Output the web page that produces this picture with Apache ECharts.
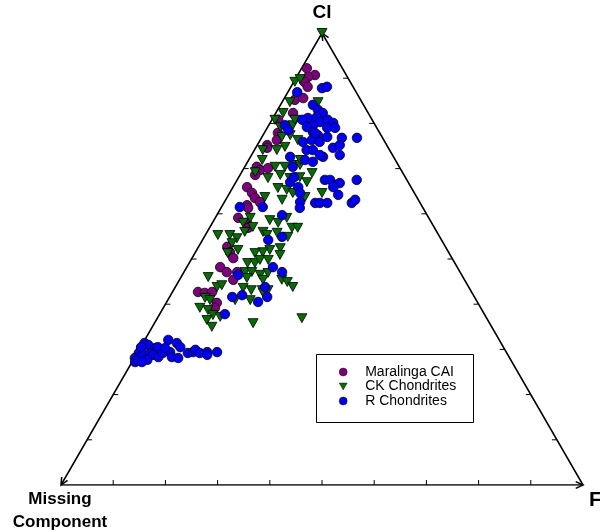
<!DOCTYPE html>
<html>
<head>
<meta charset="utf-8">
<script src="https://cdn.jsdelivr.net/npm/echarts@6/dist/echarts.min.js"></script>
<style>html,body{margin:0;padding:0;background:#fff}#c{width:600px;height:531px}</style>
</head>
<body>
<div id="c"></div>
<script>
// Ternary compositions in percent: Cl (top vertex), F (right vertex); Missing Component = 100 - Cl - F
const maralingaCl = [92.2,90.7,90.3,89.2,88.1,86.3,85.2,85.6,82.3,80.8,77.9,76.3,75.2,74.6,70.4,69.7,68.6,70.1,65.9,64.6,63.5,62.6,61.9,61.3,59.1,58.0,56.9,52.7,51.5,50.2,48.2,47.1,45.4,42.7,42.5,42.7,40.3,39.2,47.1];
const maralingaF  = [1.0,3.3,2.2,2.0,3.2,2.2,2.2,3.6,3.3,1.2,2.6,3.2,1.9,2.2,2.3,3.3,2.9,4.6,2.7,4.3,5.4,6.8,4.7,5.2,4.4,6.6,7.4,5.5,6.6,7.9,6.4,8.2,10.3,4.9,6.3,7.6,9.7,9.9,10.2];

const ckCl = [100,89.2,89.8,84.7,82.3,80.8,79.2,79.6,80.8,84.7,77.0,77.4,76.3,74.8,74.1,74.1,71.9,70.4,70.4,70.8,70.8,69.0,68.6,67.9,68.1,67.0,65.7,65.3,64.6,63.1,63.7,67.9,63.7,64.6,71.9,69.2,
  59.1,58.0,57.1,56.0,55.3,55.3,54.6,53.5,52.0,51.3,58.6,58.0,59.1,56.0,55.3,55.8,56.9,56.9,54.9,52.4,52.0,51.5,51.3,49.1,49.1,49.8,49.8,50.9,47.1,47.1,46.5,45.8,45.4,46.9,45.4,44.9,43.8,
  46.0,43.8,44.2,43.6,43.1,43.1,43.1,41.4,40.9,39.2,38.7,37.6,36.5,35.0,40.9,40.9,42.5,35.8,36.9,37.2];
const ckF  = [0,0.2,0.9,1.5,1.4,0.6,2.4,4.6,4.4,6.9,3.8,5.2,7.2,5.5,4.3,1.6,2.6,5.8,7.7,9.4,10.4,13.6,7.7,9.9,11.7,13.6,8.7,10.6,12.1,10.8,7.2,5.7,14.9,17.7,9.9,2.6,
  6.7,5.9,8.2,7.2,2.4,4.7,6.4,6.0,7.9,6.3,10.7,12.6,13.7,10.7,11.8,13.5,15.8,16.9,16.0,15.8,14.0,12.9,11.5,11.2,12.6,13.2,14.8,16.5,11.7,13.0,14.9,12.7,16.0,16.2,19.6,20.9,22.5,
  5.2,8.0,8.7,13.1,14.9,17.0,18.1,6.9,8.1,7.0,8.8,10.3,9.7,11.4,12.9,15.8,17.5,18.9,27.7,11.9];

const rCl = [87.8,88.1,86.9,84.1,83.0,82.3,81.2,81.4,80.8,80.3,80.8,80.1,79.0,79.0,79.6,79.6,79.2,78.1,77.4,77.0,76.8,76.8,75.9,76.3,75.9,74.6,73.0,74.1,74.1,71.9,71.5,72.6,72.6,70.4,67.0,65.9,68.1,67.5,67.5,66.4,66.8,67.5,64.2,64.6,62.4,62.4,62.4,62.4,63.1,61.5,61.5,62.6,
  77.9,75.2,73.0,65.9,61.3,59.7,78.5,54.2,54.9,48.2,47.1,46.5,43.8,42.0,41.6,41.6,40.5,37.8,
  31.4,31.0,30.3,30.5,32.1,31.4,30.5,30.3,29.2,28.1,27.2,27.7,28.8,29.2,28.8,28.3,29.2,29.4,30.3,28.3,28.1,29.2,29.4,29.9,29.2,29.4,28.8,29.4,27.7,27.2,30.5];
const rF  = [6.1,6.9,1.8,6.2,7.7,9.0,6.7,8.3,5.8,9.5,10.7,12.1,13.0,11.5,8.5,3.1,7.5,9.2,10.5,12.5,15.4,18.3,8.4,9.9,11.6,14.8,16.9,10.0,11.2,10.8,12.5,13.9,7.6,9.2,10.4,12.5,10.6,16.8,17.8,19.3,20.0,22.9,21.0,13.5,17.5,18.4,19.8,24.5,24.8,7.9,3.5,14.5,
  9.7,15.8,13.1,19.2,15.1,12.5,4.3,12.6,14.9,16.5,18.8,10.7,17.2,13.7,12.0,18.7,17.5,12.5,
  0.3,1.2,2.9,3.3,4.5,6.5,7.6,0.2,0.3,0.1,0.6,0.9,1.3,2.5,3.2,4.5,4.9,6.2,4.8,7.1,8.4,9.7,10.6,10.8,12.0,13.3,13.6,15.2,2.7,1.9,0.1];

const seriesNames = ['Maralinga CAI', 'CK Chondrites', 'R Chondrites'];
const vertexLabels = ['Cl', 'Missing\nComponent', 'F'];
const tickValues = [0.1,0.2,0.3,0.4,0.5,0.6,0.7,0.8,0.9];

function toXY(cl, f) {
  return cl.map((c, i) => [f[i] / 100 + c / 200, c / 100]);
}
// Triangle vertices in ternary plane coordinates: Missing, F, Cl
const vertices = [[0, 0], [1, 0], [0.5, 1]];

const chart = echarts.init(document.getElementById('c'), null, {renderer: 'canvas'});
const FONT = 'Arial, "Liberation Sans", sans-serif';
const downTri = 'path://M0,0 L10,0 L5,8.66 Z';

chart.setOption({
  animation: false,
  grid: {left: 61, top: 33, width: 522, height: 452},
  xAxis: {type: 'value', min: 0, max: 1, show: false},
  yAxis: {type: 'value', min: 0, max: 1, show: false},
  legend: {
    left: 339, top: 365, orient: 'vertical', padding: 0,
    itemWidth: 8, itemHeight: 8, itemGap: 0.5,
    itemStyle: {borderWidth: 0.4, borderColor: '#000'},
    textStyle: {fontSize: 14, fontFamily: FONT, color: '#000', padding: [0, 0, 0, 13]},
    data: seriesNames
  },
  graphic: [
    {type: 'rect', left: 314, top: 352, shape: {width: 157, height: 68}, style: {fill: 'none', stroke: '#000', lineWidth: 1}},
    {type: 'text', x: 322, y: 3, style: {text: vertexLabels[0], font: 'bold 19px ' + FONT, fill: '#000', align: 'center'}},
    {type: 'text', x: 60, y: 488, style: {text: vertexLabels[1], font: 'bold 17px ' + FONT, fill: '#000', align: 'center', lineHeight: 23}},
    {type: 'text', x: 589, y: 490, style: {text: vertexLabels[2], font: 'bold 21px ' + FONT, fill: '#000'}}
  ],
  series: [
    {type: 'line', data: [vertices[0], vertices[1], vertices[2], vertices[0]], symbol: 'none',
     lineStyle: {color: '#000', width: 1.5}, silent: true, z: 1},
    {type: 'custom', data: tickValues.map(t => [t]), silent: true, z: 1,
     renderItem: function (params, api) {
       const t = api.value(0);
       const b = api.coord([t, 0]);
       const l = api.coord([t / 2, t]);
       const r = api.coord([1 - t / 2, t]);
       const st = {stroke: '#000', lineWidth: 1};
       return {type: 'group', children: [
         {type: 'line', shape: {x1: b[0], y1: b[1], x2: b[0], y2: b[1] - 5}, style: st},
         {type: 'line', shape: {x1: l[0], y1: l[1], x2: l[0] + 5, y2: l[1]}, style: st},
         {type: 'line', shape: {x1: r[0], y1: r[1], x2: r[0] - 5, y2: r[1]}, style: st}
       ]};
     }},
    {type: 'custom', data: [[0], [1], [2]], silent: true, z: 1,
     renderItem: function (params, api) {
       const i = api.value(0);
       const from = [[2, 0], [0, 1], [1, 2]][i];
       const p0 = api.coord(vertices[from[0]]);
       const tip = api.coord(vertices[from[1]]);
       const dx = tip[0] - p0[0], dy = tip[1] - p0[1];
       const len = Math.sqrt(dx * dx + dy * dy);
       const ux = dx / len, uy = dy / len;
       const L = 8, a = 25 * Math.PI / 180;
       const rot = (x, y, ang) => [x * Math.cos(ang) - y * Math.sin(ang), x * Math.sin(ang) + y * Math.cos(ang)];
       const r1 = rot(-ux, -uy, a), r2 = rot(-ux, -uy, -a);
       return {type: 'polyline', shape: {points: [[tip[0] + L * r1[0], tip[1] + L * r1[1]], tip, [tip[0] + L * r2[0], tip[1] + L * r2[1]]]},
               style: {stroke: '#000', lineWidth: 1.5, fill: 'none'}};
     }},
    {name: seriesNames[0], type: 'scatter', data: toXY(maralingaCl, maralingaF), symbol: 'circle', symbolSize: 9.5,
     itemStyle: {color: '#800080', borderColor: '#000', borderWidth: 0.8, opacity: 1}, z: 3},
    {name: seriesNames[1], type: 'scatter', data: toXY(ckCl, ckF), symbol: downTri, symbolSize: [10, 9],
     itemStyle: {color: '#007000', borderColor: '#000', borderWidth: 0.8, opacity: 1}, z: 3},
    {name: seriesNames[2], type: 'scatter', data: toXY(rCl, rF), symbol: 'circle', symbolSize: 9.5,
     itemStyle: {color: '#0000ff', borderColor: '#000', borderWidth: 0.8, opacity: 1}, z: 3}
  ]
});
</script>
</body>
</html>
